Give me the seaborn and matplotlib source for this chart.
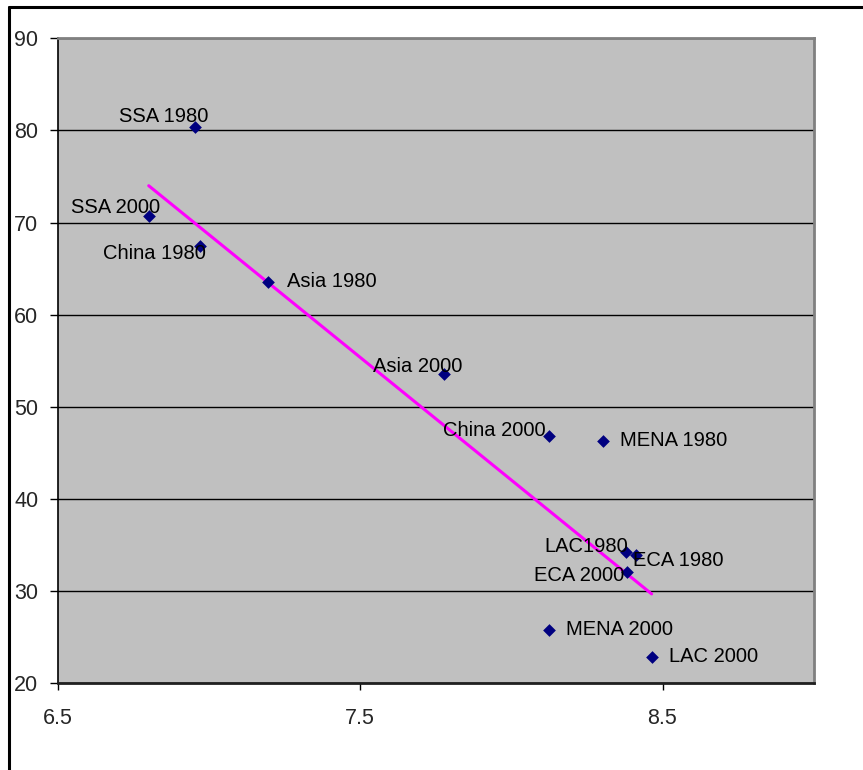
import matplotlib
matplotlib.use("Agg")
import matplotlib.pyplot as plt
import seaborn as sns
import pandas as pd

# data
labels = ["SSA 1980", "SSA 2000", "China 1980", "Asia 1980", "Asia 2000", "China 2000",
          "MENA 1980", "LAC1980", "ECA 1980", "ECA 2000", "MENA 2000", "LAC 2000"]
x_vals = [6.954, 6.801, 6.972, 7.195, 7.776, 8.125, 8.302, 8.378, 8.413, 8.381, 8.125, 8.464]
y_vals = [80.4, 70.7, 67.5, 63.6, 53.6, 46.8, 46.3, 34.3, 33.9, 32.1, 25.8, 22.9]

# trend line end points
trend_x = [6.801, 8.464]
trend_y = [74.0, 29.7]

x_ticks = [6.5, 7.5, 8.5]
x_tick_labels = ["6.5", "7.5", "8.5"]
y_ticks = [20, 30, 40, 50, 60, 70, 80, 90]

df = pd.DataFrame({"x": x_vals, "y": y_vals, "label": labels})

sns.set_theme(style="white")
plt.rcParams['font.family'] = ['Liberation Sans', 'DejaVu Sans']

fig = plt.figure(figsize=(8.63, 7.7), dpi=100)
ax = fig.add_axes([57.7/863, 1 - 683.3/770, (813.7-57.7)/863, (683.3-38.3)/770])
ax.set_facecolor("#C0C0C0")

sns.lineplot(x=trend_x, y=trend_y, color="#FF00FF", linewidth=2.2, ax=ax, zorder=3)
sns.scatterplot(data=df, x="x", y="y", marker="D", color="#000080", s=42,
                edgecolor="#000080", linewidth=0, ax=ax, zorder=4)

# label placement (pixel offsets from marker, alignment)
label_pos = {
    "SSA 1980": (-31, 10, "center"),
    "SSA 2000": (-33, 9, "center"),
    "China 1980": (-46, -8, "center"),
    "Asia 1980": (19, 0, "left"),
    "Asia 2000": (-26, 7, "center"),
    "China 2000": (-3, 6, "right"),
    "MENA 1980": (17, 0, "left"),
    "LAC1980": (3, 5, "right"),
    "ECA 1980": (-3, -5, "left"),
    "ECA 2000": (-2, -4, "right"),
    "MENA 2000": (17, 0, "left"),
    "LAC 2000": (17, 0, "left"),
}
for lab, xv, yv in zip(labels, x_vals, y_vals):
    dx, dy, ha = label_pos[lab]
    ax.annotate(lab, (xv, yv), xytext=(dx, dy), textcoords="offset pixels",
                ha=ha, va="center", fontsize=14.5, color="black", zorder=5)

ax.set_xlim(6.5, 9.0)
ax.set_ylim(20, 90)
ax.set_xticks(x_ticks)
ax.set_xticklabels(x_tick_labels, fontsize=15.5)
ax.set_yticks(y_ticks)
ax.set_yticklabels([str(v) for v in y_ticks], fontsize=15.5)
ax.yaxis.grid(True, color="black", linewidth=1)
ax.xaxis.grid(False)
ax.set_axisbelow(True)
ax.set_xlabel("")
ax.set_ylabel("")

ax.tick_params(axis="x", direction="out", length=5, width=1, color="black",
               pad=13, bottom=True)
ax.tick_params(axis="y", direction="out", length=6, width=1, color="black",
               pad=8, left=True)

for side in ["left", "bottom"]:
    ax.spines[side].set_color("black")
    ax.spines[side].set_linewidth(1.2)
for side in ["top", "right"]:
    ax.spines[side].set_color("#808080")
    ax.spines[side].set_linewidth(2)
ax.spines["bottom"].set_color("#202020")
ax.spines["bottom"].set_linewidth(2)

# outer chart frame (only top and left visible)
fig.add_artist(plt.Line2D([9/863, 9/863], [0, 1 - 7/770], color="black", linewidth=2.2))
fig.add_artist(plt.Line2D([9/863, 1], [1 - 7/770, 1 - 7/770], color="black", linewidth=2.2))

fig.savefig("out.png", dpi=100, facecolor="white")
